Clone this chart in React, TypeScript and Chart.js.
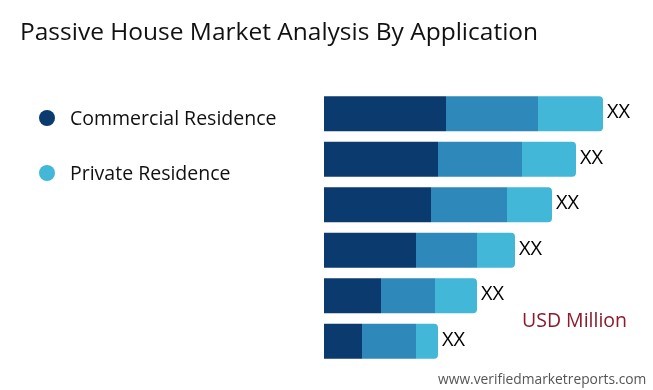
import React, { useEffect, useRef } from "react";
import { Chart, registerables } from "chart.js";

Chart.register(...registerables);

const categories = ["Row 1", "Row 2", "Row 3", "Row 4", "Row 5", "Row 6"];
const commercialValues = [122, 114, 107, 92, 57, 38];
const middleValues = [92, 84, 76, 61, 54, 54];
const privateValues = [65, 54, 45, 38, 42, 22];
const valueLabels = ["XX", "XX", "XX", "XX", "XX", "XX"];

const DARK = "#0b3a6e";
const MID = "#2f88ba";
const LIGHT = "#42b7d8";

const endLabels = {
  id: "endLabels",
  afterDatasetsDraw(chart: any) {
    const ctx = chart.ctx;
    const meta = chart.getDatasetMeta(chart.data.datasets.length - 1);
    ctx.save();
    ctx.fillStyle = "#000";
    ctx.font = "20px 'Open Sans', sans-serif";
    ctx.textAlign = "left";
    ctx.textBaseline = "middle";
    meta.data.forEach((el: any, i: number) => {
      ctx.fillText(valueLabels[i], el.x + 4, el.y - 1);
    });
    ctx.restore();
  },
};

export default function App() {
  const ref = useRef<HTMLCanvasElement>(null);
  useEffect(() => {
    if (!ref.current) return;
    const chart = new Chart(ref.current, {
      type: "bar",
      data: {
        labels: categories,
        datasets: [
          { label: "Commercial Residence", data: commercialValues, backgroundColor: DARK, borderRadius: 0 },
          { label: "Other", data: middleValues, backgroundColor: MID, borderRadius: 0 },
          { label: "Private Residence", data: privateValues, backgroundColor: LIGHT, borderRadius: 4 },
        ],
      },
      options: {
        indexAxis: "y",
        responsive: false,
        animation: false,
        maintainAspectRatio: false,
        layout: { padding: { left: 324, right: 9, top: 91, bottom: 26 } },
        datasets: { bar: { categoryPercentage: 1, barPercentage: 0.77 } },
        scales: {
          x: { stacked: true, min: 0, max: 320, display: false },
          y: { stacked: true, display: false },
        },
        plugins: { legend: { display: false }, tooltip: { enabled: false }, title: { display: false } },
      },
      plugins: [endLabels],
    });
    return () => chart.destroy();
  }, []);

  return (
    <div style={{ position: "fixed", left: 0, top: 0, width: 653, height: 390, background: "#fff", overflow: "hidden" }}>
      <canvas ref={ref} width={653} height={390} style={{ position: "absolute", left: 0, top: 0 }} />
      <div style={{ position: "absolute", left: 20, top: 14, fontFamily: "'Open Sans', sans-serif", fontSize: 24.5, color: "#111", whiteSpace: "nowrap" }}>
        Passive House Market Analysis By Application
      </div>
      <div style={{ position: "absolute", left: 39, top: 104, display: "flex", alignItems: "center", fontFamily: "'Open Sans', sans-serif", fontSize: 19.5, color: "#111", whiteSpace: "nowrap" }}>
        <span style={{ width: 16, height: 16, borderRadius: 8, background: DARK, display: "inline-block", marginRight: 15 }} />
        Commercial Residence
      </div>
      <div style={{ position: "absolute", left: 39, top: 159, display: "flex", alignItems: "center", fontFamily: "'Open Sans', sans-serif", fontSize: 19.5, color: "#111", whiteSpace: "nowrap" }}>
        <span style={{ width: 16, height: 16, borderRadius: 8, background: LIGHT, display: "inline-block", marginRight: 15 }} />
        Private Residence
      </div>
      <div style={{ position: "absolute", left: 522, top: 306, fontFamily: "'Open Sans', sans-serif", fontSize: 19.5, color: "#8b1a2b", whiteSpace: "nowrap" }}>
        USD Million
      </div>
      <div style={{ position: "absolute", left: 438, top: 369, fontFamily: "'Open Sans', sans-serif", fontSize: 13.8, color: "#555", whiteSpace: "nowrap" }}>
        www.verifiedmarketreports.com
      </div>
    </div>
  );
}
